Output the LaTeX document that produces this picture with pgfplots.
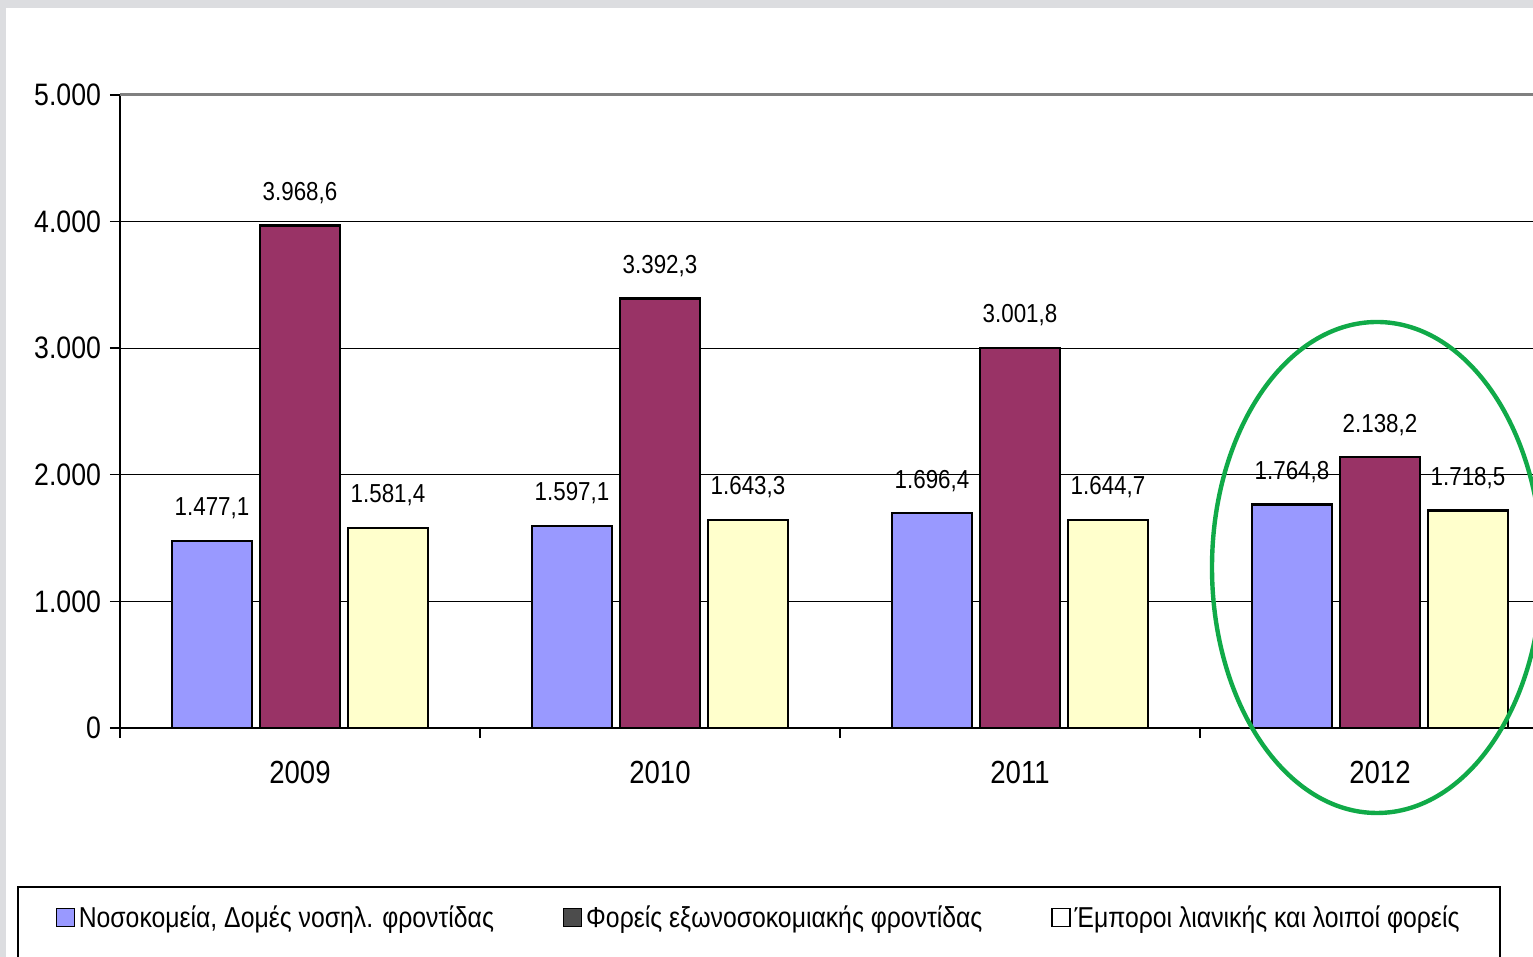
\documentclass[border=0pt]{standalone}
\usepackage{fontspec}
\setmainfont{Liberation Sans}[FakeStretch=0.86]
\usepackage{pgfplots}
\pgfplotsset{compat=1.18}
\definecolor{cblue}{HTML}{9999FF}
\definecolor{cmaroon}{HTML}{993366}
\definecolor{cyellow}{HTML}{FFFFCC}
\definecolor{cgreen}{RGB}{16,170,72}
\definecolor{cframe}{HTML}{DCDDE0}
\begin{document}
\begin{tikzpicture}
\useasboundingbox (0,0) rectangle (766.5pt,478.5pt);
\clip (0,0) rectangle (766.5pt,478.5pt);
\fill[white] (0,0) rectangle (766.5pt,478.5pt);
\fill[cframe] (0,0) rectangle (3pt,478.5pt);
\fill[cframe] (0,474.5pt) rectangle (766.5pt,478.5pt);
\begin{axis}[
  at={(60pt,114.5pt)}, anchor=south west,
  scale only axis, width=720pt, height=316.5pt,
  xmin=-0.5, xmax=3.5, ymin=0, ymax=5000,
  axis lines*=left,
  axis line style={black, line width=1pt},
  ybar=4pt, bar width=40pt,
  xtick={-0.5,0.5,1.5,2.5,3.5},
  x tick label as interval,
  xticklabels={2009,2010,2011,2012},
  x tick label style={font=\fontsize{16}{19}\selectfont, yshift=-8pt},
  ytick={0,1000,2000,3000,4000,5000},
  yticklabels={0,1.000,2.000,3.000,4.000,5.000},
  y tick label style={font=\fontsize{15.5}{18}\selectfont, xshift=-1pt},
  tick align=outside, major tick length=5pt,
  tick style={black, line width=0.7pt},
  xtick pos=bottom, ytick pos=left,
  ymajorgrids, xmajorgrids=false,
  grid style={black, line width=0.6pt},
  clip=false,
  nodes near coords={\pgfmathprintnumber[fixed,fixed zerofill,precision=1,use comma,1000 sep={.},assume math mode=true]{\pgfplotspointmeta}},
  every node near coord/.append style={font=\fontsize{13}{15}\selectfont, black, yshift=7pt},
  legend style={at={(-0.045,-0.300)}, anchor=west, draw=none, fill=none,
    font=\fontsize{14.4}{17}\selectfont, inner sep=0pt,
    /tikz/every even column/.append style={column sep=32.5pt}},
  legend columns=3,
]
\addplot[draw=black, line width=1.2pt, fill=cblue,
  legend image code/.code={\draw[black, line width=0.6pt, fill=cblue] (0pt,-4.5pt) rectangle (9pt,4.5pt);}]
  coordinates {(0,1477.1) (1,1597.1) (2,1696.4) (3,1764.8)};
\addplot[draw=black, line width=1.2pt, fill=cmaroon,
  legend image code/.code={\draw[black, line width=0.6pt, fill=black!70] (0pt,-4.5pt) rectangle (9pt,4.5pt);}]
  coordinates {(0,3968.6) (1,3392.3) (2,3001.8) (3,2138.2)};
\addplot[draw=black, line width=1.2pt, fill=cyellow,
  legend image code/.code={\draw[black, line width=0.6pt, fill=white] (0pt,-4.5pt) rectangle (9pt,4.5pt);}]
  coordinates {(0,1581.4) (1,1643.3) (2,1644.7) (3,1718.5)};
\legend{{Νοσοκομεία, Δομές νοσηλ. φροντίδας}, {Φορείς εξωνοσοκομιακής φροντίδας}, {Έμποροι λιανικής και λοιποί φορείς}}
\end{axis}
\draw[black!50, line width=1.5pt] (60pt,431pt) -- (766.5pt,431pt);
\draw[black, line width=0.8pt] (9pt,-5pt) rectangle (750pt,35pt);
\draw[cgreen, line width=2.2pt] (688.5pt,194.75pt) ellipse [x radius=82.5pt, y radius=122.75pt];
\end{tikzpicture}
\end{document}
